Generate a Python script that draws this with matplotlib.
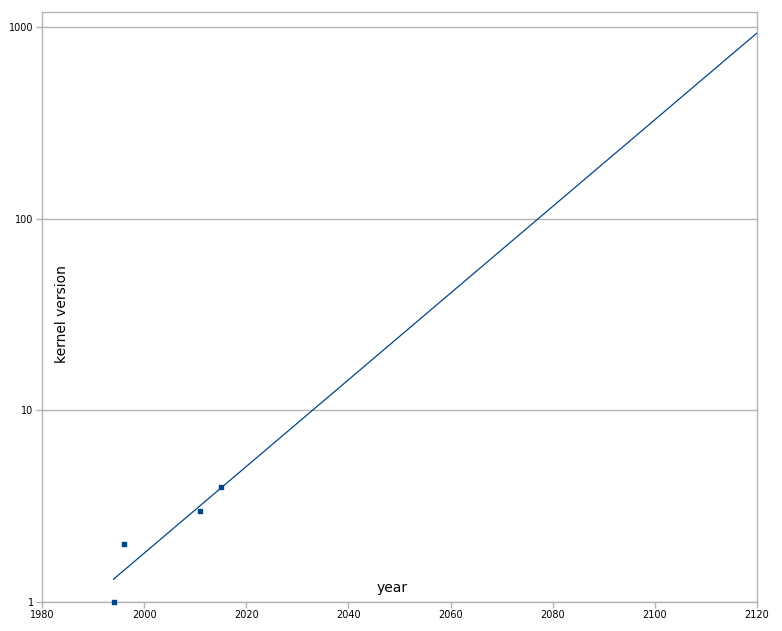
import matplotlib
matplotlib.use("Agg")
import matplotlib.pyplot as plt
import numpy as np
from matplotlib.ticker import FixedLocator, NullLocator

years = [1994, 1996, 2011, 2015]
versions = [1, 2, 3, 4]
x_ticks = [1980, 2000, 2020, 2040, 2060, 2080, 2100, 2120]
y_ticks = [1, 10, 100, 1000]
y_tick_labels = ["1", "10", "100", "1000"]

BLUE = "#004586"
GRAY = "#b3b3b3"

fig = plt.figure(figsize=(7.82, 6.31), dpi=100)
ax = fig.add_axes([42 / 782, 1 - 602 / 631, 715 / 782, 590 / 631])

# exponential trend line (fit of log version against year)
slope, icpt = np.polyfit(years, np.log(versions), 1)
tx = np.array([years[0], x_ticks[-1]])
ax.plot(tx, np.exp(icpt + slope * tx), color=BLUE, lw=0.9, zorder=3)
ax.scatter(years, versions, marker="s", s=10, color=BLUE, zorder=4, clip_on=False)

ax.set_yscale("log")
ax.set_xlim(1980, 2120)
ax.set_ylim(1, 10 ** (3 + 15 / 191.7))
ax.yaxis.set_major_locator(FixedLocator(y_ticks))
ax.yaxis.set_minor_locator(NullLocator())
ax.set_yticklabels(y_tick_labels)
ax.set_xticks(x_ticks)
ax.grid(axis="y", color=GRAY, lw=1.0)
ax.set_axisbelow(True)

for s in ax.spines.values():
    s.set_color(GRAY)
    s.set_linewidth(1.0)
ax.tick_params(axis="both", colors=GRAY, labelcolor="black", labelsize=7,
               length=4, width=1, direction="out", pad=2)

ax.text(0.028, 0.488, "kernel version", transform=ax.transAxes, rotation=90,
        ha="center", va="center", fontsize=10)
ax.text(0.49, 0.024, "year", transform=ax.transAxes,
        ha="center", va="center", fontsize=10)

fig.savefig("out.png", dpi=100)
